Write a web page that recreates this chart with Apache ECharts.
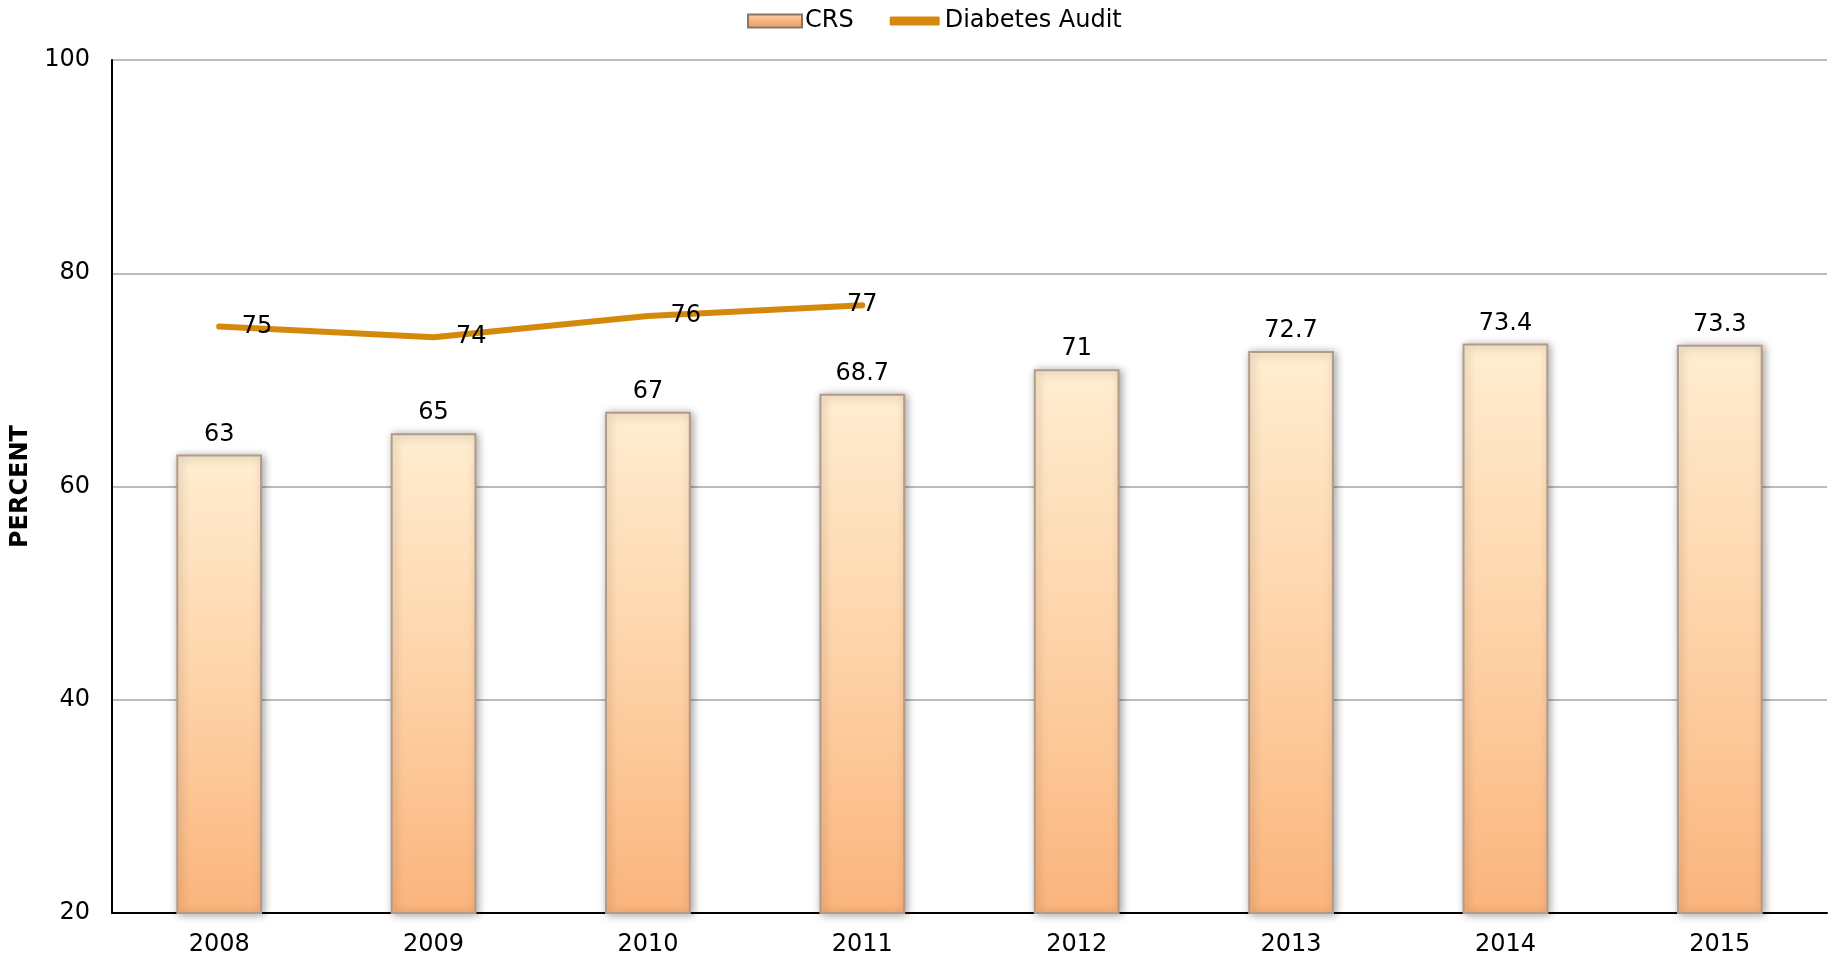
<!DOCTYPE html>
<html>
<head>
<meta charset="utf-8">
<script src="https://cdn.jsdelivr.net/npm/echarts@6/dist/echarts.min.js"></script>
<style>
html,body{margin:0;padding:0;background:#fff;}
#chart{width:1833px;height:957px;}
</style>
</head>
<body>
<div id="chart"></div>
<script>
var years = ['2008','2009','2010','2011','2012','2013','2014','2015'];
var crsValues = [63, 65, 67, 68.7, 71, 72.7, 73.4, 73.3];
var auditValues = [75, 74, 76, 77, null, null, null, null];
var yTicks = {min: 20, max: 100, interval: 20};

var FONT = '"DejaVu Sans", Verdana, sans-serif';
var lastAudit = 3;
var auditData = auditValues.map(function (v, i) {
  if (i === lastAudit) return {value: v, label: {position: 'inside', padding: [0, 0, 0, 0]}};
  return v;
});

var chart = echarts.init(document.getElementById('chart'));
chart.setOption({
  animation: false,
  backgroundColor: '#ffffff',
  textStyle: {fontFamily: FONT},
  legend: {
    top: 4,
    left: 742,
    itemGap: 32,
    itemWidth: 54,
    itemHeight: 13,
    textStyle: {fontFamily: FONT, fontSize: 24, color: '#000', padding: [0,0,0,-2]},
    data: [
      {name: 'CRS', icon: 'rect', itemStyle: {color: new echarts.graphic.LinearGradient(0,0,0,1,[{offset:0,color:'#fbd2ae'},{offset:0.5,color:'#f7b27d'},{offset:1,color:'#e8a06c'}]), borderColor: '#8c7463', borderWidth: 2}},
      {name: 'Diabetes Audit', icon: 'roundRect', itemStyle: {color: '#d4890a', opacity: 1, borderColor: '#ffffff', borderWidth: 4}}
    ]
  },
  grid: {left: 112, right: 6, top: 60, bottom: 44, containLabel: false},
  xAxis: {
    type: 'category',
    data: years,
    axisLine: {show: true, lineStyle: {color: '#000', width: 2}},
    axisTick: {show: false},
    axisLabel: {fontFamily: FONT, fontSize: 24, color: '#000', margin: 20}
  },
  yAxis: {
    type: 'value',
    min: yTicks.min, max: yTicks.max, interval: yTicks.interval,
    name: 'PERCENT',
    nameLocation: 'middle',
    nameGap: 79,
    nameTextStyle: {fontFamily: FONT, fontSize: 24, fontWeight: 'bold', color: '#000'},
    axisLine: {show: true, lineStyle: {color: '#000', width: 2}},
    axisTick: {show: false},
    axisLabel: {fontFamily: FONT, fontSize: 24, color: '#000', margin: 22},
    splitLine: {show: true, lineStyle: {color: '#a6a6a6', width: 1.5}}
  },
  series: [
    {
      name: 'CRS',
      type: 'bar',
      data: crsValues,
      barWidth: '40%',
      itemStyle: {
        color: new echarts.graphic.LinearGradient(0,0,0,1,[
          {offset:0, color:'#ffedd0'},
          {offset:0.5, color:'#fed3a8'},
          {offset:1, color:'#fbb47c'}
        ]),
        borderColor: '#b59a87',
        borderWidth: 2,
        shadowBlur: 8,
        shadowColor: 'rgba(0,0,0,0.35)',
        shadowOffsetX: 2,
        shadowOffsetY: 1
      },
      label: {show: true, position: 'top', distance: 8, fontFamily: FONT, fontSize: 24, color: '#000'},
      z: 2
    },
    {
      name: 'Diabetes Audit',
      type: 'line',
      data: auditData,
      symbol: 'circle',
      symbolSize: 1,
      showSymbol: true,
      connectNulls: false,
      lineStyle: {color: '#d4890a', width: 6, cap: 'round'},
      itemStyle: {color: '#d4890a', opacity: 0},
      label: {show: true, position: 'right', distance: 22, padding: [8, 0, 0, 0], fontFamily: FONT, fontSize: 24, color: '#000', opacity: 1},
      labelLayout: {hideOverlap: false},
      z: 3
    }
  ]
});
</script>
</body>
</html>
